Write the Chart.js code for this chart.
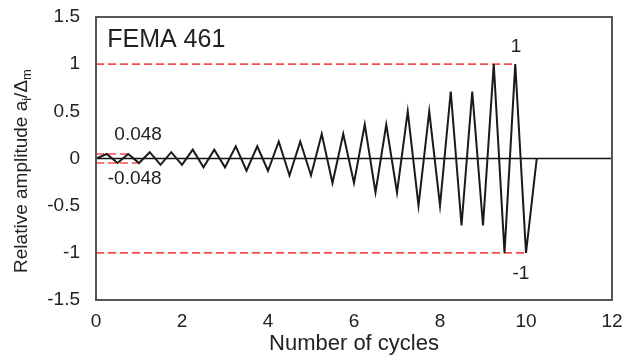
<!DOCTYPE html>
<html>
<head>
<meta charset="utf-8">
<script src="https://cdn.jsdelivr.net/npm/chart.js@4.4.1/dist/chart.umd.min.js"></script>
<style>
  html, body { margin: 0; padding: 0; background: #fff; }
  #wrap { width: 635px; height: 358px; }
</style>
</head>
<body>
<div id="wrap"><canvas id="protocolChart"></canvas></div>
<script>
// FEMA 461 loading history (2 cycles per amplitude step)
const cycleX = [0,
  0.25, 0.5, 0.75, 1.0,
  1.25, 1.5, 1.75, 2.0,
  2.25, 2.5, 2.75, 3.0,
  3.25, 3.5, 3.75, 4.0,
  4.25, 4.5, 4.75, 5.0,
  5.25, 5.5, 5.75, 6.0,
  6.25, 6.5, 6.75, 7.0,
  7.25, 7.5, 7.75, 8.0,
  8.25, 8.5, 8.75, 9.0,
  9.25, 9.5, 9.75, 10.0,
  10.25];
const amplitude = [0,
  0.048, -0.048, 0.048, -0.048,
  0.067, -0.067, 0.067, -0.067,
  0.094, -0.094, 0.094, -0.094,
  0.13, -0.13, 0.13, -0.13,
  0.18, -0.18, 0.18, -0.18,
  0.26, -0.26, 0.26, -0.26,
  0.36, -0.36, 0.36, -0.36,
  0.50, -0.50, 0.50, -0.50,
  0.71, -0.71, 0.71, -0.71,
  1, -1, 1, -1,
  0];

// red dashed reference levels
const topLimitX = [0, 9.75],   topLimitY = [1, 1];
const botLimitX = [0, 10],     botLimitY = [-1, -1];
const firstTopX = [0, 0.75],   firstTopY = [0.048, 0.048];
const firstBotX = [0, 1],      firstBotY = [-0.048, -0.048];
const zeroX = [0, 12],         zeroY = [0, 0];

const xTickValues = [0, 2, 4, 6, 8, 10, 12];
const xTickLabels = ['0', '2', '4', '6', '8', '10', '12'];
const yTickValues = [-1.5, -1, -0.5, 0, 0.5, 1, 1.5];
const yTickLabels = ['-1.5', '-1', '-0.5', '0', '0.5', '1', '1.5'];

const FONT = '"Liberation Sans", Arial, sans-serif';

function pts(xs, ys) {
    return xs.map((x, i) => ({x: x, y: ys[i]}));
}

// text placed in data coordinates
const notes = [
    {text: 'FEMA 461', x: 0.26, y: 1.257, size: 25, align: 'left'},
    {text: '1', x: 9.77, y: 1.18, size: 19, align: 'center'},
    {text: '-1', x: 9.88, y: -1.22, size: 19, align: 'center'},
    {text: '0.048', x: 0.98, y: 0.25, size: 19, align: 'center'},
    {text: '-0.048', x: 0.9, y: -0.21, size: 19, align: 'center'},
];

const extrasPlugin = {
    id: 'extras',
    afterDraw(chart) {
        const {ctx, chartArea: a, scales: {x, y}} = chart;
        ctx.save();
        // plot area frame
        ctx.strokeStyle = '#555';
        ctx.lineWidth = 2;
        ctx.strokeRect(a.left, a.top, a.right - a.left, a.bottom - a.top);

        ctx.fillStyle = '#222';
        ctx.textBaseline = 'middle';
        notes.forEach(n => {
            ctx.font = n.size + 'px ' + FONT;
            ctx.textAlign = n.align;
            ctx.fillText(n.text, x.getPixelForValue(n.x), y.getPixelForValue(n.y));
        });

        // y axis title with subscripts
        const parts = [
            ['Relative amplitude a', 19, 0],
            ['i', 13, 5],
            ['/\u0394', 19, 0],
            ['m', 13, 5],
        ];
        let total = 0;
        parts.forEach(p => { ctx.font = p[1] + 'px ' + FONT; total += ctx.measureText(p[0]).width; });
        ctx.translate(22, 171);
        ctx.rotate(-Math.PI / 2);
        ctx.textAlign = 'left';
        let cx = -total / 2;
        parts.forEach(p => {
            ctx.font = p[1] + 'px ' + FONT;
            ctx.fillText(p[0], cx, p[2]);
            cx += ctx.measureText(p[0]).width;
        });
        ctx.restore();
    }
};

const dashed = {borderColor: '#ff4a4a', borderWidth: 1.6, borderDash: [8, 4], pointRadius: 0, showLine: true, order: 3};

new Chart('protocolChart', {
    type: 'scatter',
    data: {
        datasets: [
            {data: pts(cycleX, amplitude), borderColor: '#1a1a1a', borderWidth: 2, pointRadius: 0, showLine: true, order: 0},
            {data: pts(zeroX, zeroY), borderColor: '#111', borderWidth: 1.5, pointRadius: 0, showLine: true, order: 1},
            Object.assign({data: pts(topLimitX, topLimitY)}, dashed),
            Object.assign({data: pts(botLimitX, botLimitY)}, dashed),
            Object.assign({data: pts(firstTopX, firstTopY)}, dashed),
            Object.assign({data: pts(firstBotX, firstBotY)}, dashed),
        ]
    },
    options: {
        responsive: true,
        maintainAspectRatio: false,
        animation: false,
        layout: {padding: {top: 17, right: 23, left: 0, bottom: 0}},
        scales: {
            x: {
                type: 'linear',
                min: 0,
                max: 12,
                afterBuildTicks: scale => { scale.ticks = xTickValues.map(v => ({value: v})); },
                afterFit: scale => {
                    scale.height = 58;
                    scale.paddingLeft = 0;
                    scale.paddingRight = 0;
                },
                grid: {display: false, drawTicks: false},
                border: {display: false},
                ticks: {
                    padding: 10,
                    color: '#222',
                    font: {family: FONT, size: 19},
                    callback: (val, i) => xTickLabels[i],
                },
                title: {
                    display: true,
                    text: 'Number of cycles',
                    color: '#222',
                    font: {family: FONT, size: 22},
                    padding: {top: 0, bottom: 1},
                }
            },
            y: {
                min: -1.5,
                max: 1.5,
                afterBuildTicks: scale => { scale.ticks = yTickValues.map(v => ({value: v})); },
                afterFit: scale => {
                    scale.width = 96;
                    scale.paddingTop = 0;
                    scale.paddingBottom = 0;
                },
                grid: {display: false, drawTicks: false},
                border: {display: false},
                ticks: {
                    padding: 16,
                    color: '#222',
                    font: {family: FONT, size: 19},
                    callback: (val, i) => yTickLabels[i],
                }
            }
        },
        plugins: {
            legend: {display: false},
            tooltip: {enabled: false},
        }
    },
    plugins: [extrasPlugin]
});
</script>
</body>
</html>
